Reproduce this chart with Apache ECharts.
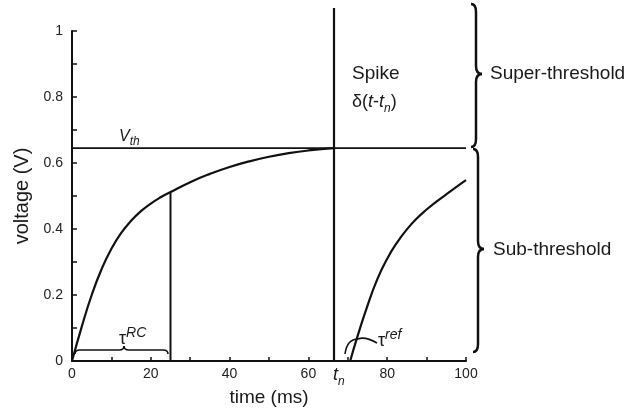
<!DOCTYPE html>
<html>
<head>
<meta charset="utf-8">
<script src="https://cdn.jsdelivr.net/npm/echarts@6/dist/echarts.min.js"></script>
<style>
  html, body { margin: 0; padding: 0; background: #fff; }
  #main { width: 628px; height: 413px; }
</style>
</head>
<body>
<div id="main"></div>
<script>
// charging curve up to threshold (ms, V)
var timeRise = [0, 2.5, 5, 7.5, 10, 12.5, 15, 17.5, 20, 22.5, 25, 30, 35, 40, 45, 50, 55, 60, 66.5];
var voltRise = [0, 0.105, 0.2, 0.278, 0.34, 0.388, 0.425, 0.454, 0.477, 0.496, 0.512, 0.542, 0.567, 0.588, 0.605, 0.619, 0.630, 0.638, 0.645];
// recovery after the refractory period
var timeRecover = [70.6, 72.5, 75, 77.5, 80, 82.5, 85, 87.5, 90, 92.5, 95, 97.5, 100];
var voltRecover = [0, 0.076, 0.168, 0.248, 0.31, 0.359, 0.399, 0.432, 0.459, 0.483, 0.505, 0.527, 0.548];
var vThreshold = 0.645;
var tauRC = 25;
var vAtTauRC = 0.512;
var tSpike = 66.5;
var spikeTop = 1.07;
var xTicks = [0, 20, 40, 60, 80, 100];
var yTicks = [0, 0.2, 0.4, 0.6, 0.8, 1];

var FONT = '"Liberation Sans", Arial, Helvetica, sans-serif';
var INK = '#111';

function zip(xs, ys) {
  var out = [];
  for (var i = 0; i < xs.length; i++) out.push([xs[i], ys[i]]);
  return out;
}

function lineSeries(data, width, extra) {
  var s = {
    type: 'line',
    data: data,
    symbol: 'none',
    lineStyle: { color: INK, width: width },
    silent: true
  };
  for (var k in extra) s[k] = extra[k];
  return s;
}

var strokeStyle = { stroke: INK, lineWidth: 2.5, fill: null };

// vertical curly brace pointing right
function braceV(x, top, mid, bottom, tip) {
  var r = 8;
  return [
    { type: 'bezierCurve', shape: { x1: x - 5, y1: top, cpx1: x, cpy1: top, x2: x, y2: top + r }, style: strokeStyle },
    { type: 'line', shape: { x1: x, y1: top + r, x2: x, y2: mid - r }, style: strokeStyle },
    { type: 'bezierCurve', shape: { x1: x, y1: mid - r, cpx1: x, cpy1: mid, x2: x + tip, y2: mid }, style: strokeStyle },
    { type: 'bezierCurve', shape: { x1: x + tip, y1: mid, cpx1: x, cpy1: mid, x2: x, y2: mid + r }, style: strokeStyle },
    { type: 'line', shape: { x1: x, y1: mid + r, x2: x, y2: bottom - r }, style: strokeStyle },
    { type: 'bezierCurve', shape: { x1: x, y1: bottom - r, cpx1: x, cpy1: bottom, x2: x - 5, y2: bottom }, style: strokeStyle }
  ];
}

var thin = { stroke: INK, lineWidth: 1.6, fill: null };
var tauBrace = [
  { type: 'bezierCurve', shape: { x1: 75, y1: 354, cpx1: 75, cpy1: 350, x2: 80, y2: 350 }, style: thin },
  { type: 'line', shape: { x1: 80, y1: 350, x2: 119, y2: 350 }, style: thin },
  { type: 'bezierCurve', shape: { x1: 119, y1: 350, cpx1: 124, cpy1: 350, x2: 124, y2: 346 }, style: thin },
  { type: 'bezierCurve', shape: { x1: 124, y1: 346, cpx1: 124, cpy1: 350, x2: 129, y2: 350 }, style: thin },
  { type: 'line', shape: { x1: 129, y1: 350, x2: 163, y2: 350 }, style: thin },
  { type: 'bezierCurve', shape: { x1: 163, y1: 350, cpx1: 168, cpy1: 350, x2: 168, y2: 354 }, style: thin }
];
var refArc = [
  { type: 'bezierCurve', shape: { x1: 345, y1: 354, cpx1: 347, cpy1: 339, x2: 358, y2: 339 }, style: thin },
  { type: 'bezierCurve', shape: { x1: 358, y1: 339, cpx1: 365, cpy1: 336, x2: 377, y2: 343 }, style: thin }
];

function txt(x, y, text, size, rich, italic) {
  return {
    type: 'text', x: x, y: y, silent: true,
    style: {
      text: text, fill: '#1a1a1a', fontFamily: FONT, fontSize: size,
      fontStyle: italic ? 'italic' : 'normal',
      align: 'left', verticalAlign: 'middle', rich: rich
    }
  };
}

var richSub = {
  m: { fontFamily: FONT, fontSize: 18, lineHeight: 26, verticalAlign: 'middle', fill: '#1a1a1a' },
  i: { fontFamily: FONT, fontSize: 18, fontStyle: 'italic', lineHeight: 26, verticalAlign: 'middle', fill: '#1a1a1a' },
  s: { fontFamily: FONT, fontSize: 12, fontStyle: 'italic', lineHeight: 14, verticalAlign: 'bottom', fill: '#1a1a1a' },
  g: { fontFamily: FONT, fontSize: 18, lineHeight: 26, verticalAlign: 'middle', fill: '#1a1a1a' },
  p: { fontFamily: FONT, fontSize: 14, fontStyle: 'italic', lineHeight: 14, verticalAlign: 'top', fill: '#1a1a1a' }
};
var richV = {
  i: { fontFamily: FONT, fontSize: 16, fontStyle: 'italic', lineHeight: 22, verticalAlign: 'middle', fill: '#1a1a1a' },
  s: { fontFamily: FONT, fontSize: 12, fontStyle: 'italic', lineHeight: 14, verticalAlign: 'bottom', fill: '#1a1a1a' }
};

var graphics = []
  .concat(braceV(476, 4, 74, 147, 6))
  .concat(braceV(478, 149, 249, 352, 6))
  .concat(tauBrace)
  .concat(refArc)
  .concat([
    txt(119, 137, '{i|V}{s|th}', 16, richV),
    txt(352, 74, 'Spike', 19),
    txt(352, 102, '{m|δ(}{i|t}{m|-}{i|t}{s|n}{m|)}', 18, richSub),
    txt(490, 74, 'Super-threshold', 19),
    txt(493, 250, 'Sub-threshold', 19),
    txt(119, 339, '{g|τ}{p|RC}', 18, richSub),
    txt(378, 341, '{g|τ}{p|ref}', 18, richSub),
    txt(333, 375, '{i|t}{s|n}', 18, richSub)
  ]);

var chart = echarts.init(document.getElementById('main'));
chart.setOption({
  backgroundColor: '#fff',
  animation: false,
  grid: { left: 72, right: 162, top: 31, bottom: 52 },
  xAxis: {
    type: 'value', min: 0, max: 100, interval: 10,
    name: 'time (ms)', nameLocation: 'middle', nameGap: 27,
    nameTextStyle: { fontFamily: FONT, fontSize: 19, color: '#1a1a1a' },
    axisLine: { lineStyle: { color: INK, width: 2 } },
    axisTick: { inside: true, length: 4, lineStyle: { color: INK, width: 1.5 } },
    axisLabel: {
      margin: 6, fontFamily: FONT, fontSize: 14, color: '#222',
      formatter: function (v) { return xTicks.indexOf(Math.round(v)) >= 0 ? String(Math.round(v)) : ''; }
    },
    splitLine: { show: false }
  },
  yAxis: {
    type: 'value', min: 0, max: 1, interval: 0.1,
    name: 'voltage (V)', nameLocation: 'middle', nameGap: 31,
    nameTextStyle: { fontFamily: FONT, fontSize: 20, color: '#1a1a1a' },
    axisLine: { show: true, lineStyle: { color: INK, width: 2 } },
    axisTick: { show: true, inside: true, length: 5, lineStyle: { color: INK, width: 1.5 } },
    axisLabel: {
      margin: 9, fontFamily: FONT, fontSize: 14, color: '#222',
      formatter: function (v) {
        var r = Math.round(v * 10) / 10;
        return yTicks.indexOf(r) >= 0 ? String(r) : '';
      }
    },
    splitLine: { show: false }
  },
  series: [
    lineSeries(zip(timeRise, voltRise), 2.2, { smooth: 0.5 }),
    lineSeries(zip(timeRecover, voltRecover), 2.2, { smooth: 0.5 }),
    lineSeries([[0, vThreshold], [100, vThreshold]], 1.6),
    lineSeries([[tauRC, 0], [tauRC, vAtTauRC]], 2),
    lineSeries([[tSpike, 0], [tSpike, spikeTop]], 2.2, { clip: false })
  ],
  graphic: graphics
});
</script>
</body>
</html>
